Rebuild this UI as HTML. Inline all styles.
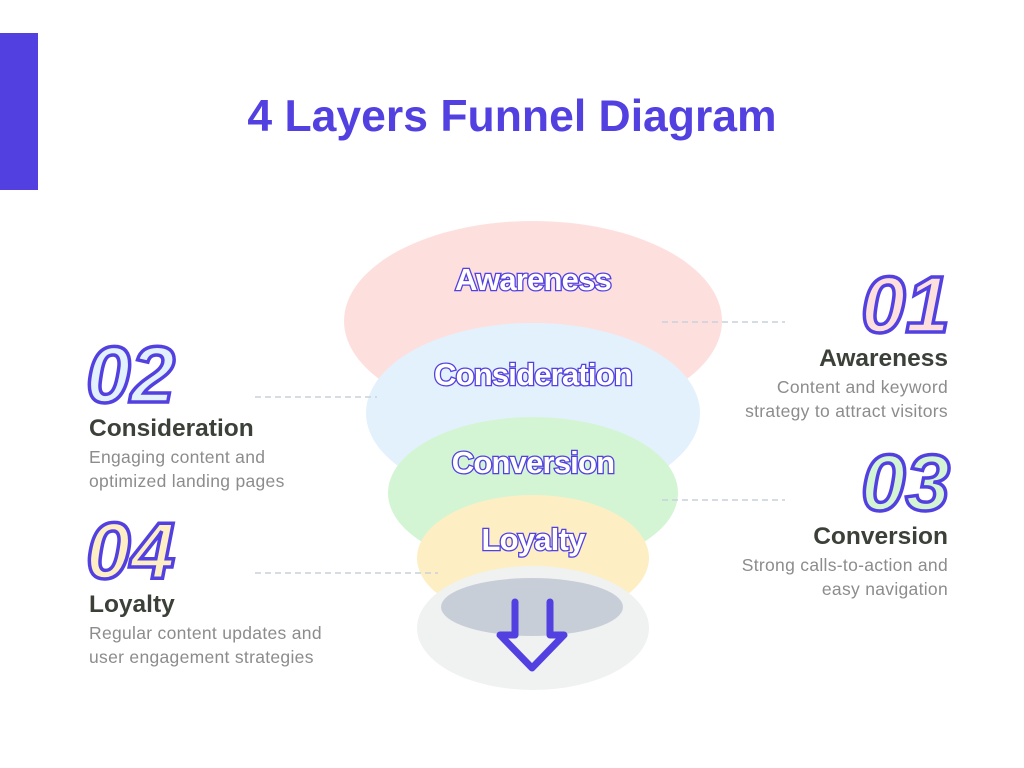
<!DOCTYPE html>
<html><head><meta charset="utf-8"><style>
html,body{margin:0;padding:0;background:#fff;}
svg{display:block;}
.lbl{font-family:"Liberation Sans",sans-serif;font-weight:bold;font-size:31px;fill:#fff;stroke:#5240e0;stroke-width:2.6px;paint-order:stroke fill;text-anchor:middle;letter-spacing:-0.8px}
.num{font-family:"Liberation Sans",sans-serif;font-weight:bold;font-style:italic;font-size:80px;stroke:#5240e0;stroke-width:3.5px;letter-spacing:0px}
.h{font-family:"Liberation Sans",sans-serif;font-weight:bold;font-size:24.5px;fill:#3b4039}
.b{font-family:"Liberation Sans",sans-serif;font-size:17.5px;fill:#8c8c8c;letter-spacing:0.3px}
.r{text-anchor:end}
.d{stroke:#c9d0dc;stroke-width:1.5;stroke-dasharray:6 4}
</style></head><body>
<svg width="1024" height="768" viewBox="0 0 1024 768">
<rect x="0" y="33" width="38" height="157" fill="#5240e0"/>
<text x="512" y="131" text-anchor="middle" font-family="Liberation Sans,sans-serif" font-weight="bold" font-size="44.5" fill="#5240e0">4 Layers Funnel Diagram</text>

<ellipse cx="533" cy="321" rx="189" ry="100" fill="#fde0de"/>
<ellipse cx="533" cy="413" rx="167" ry="90" fill="#e3f1fd"/>
<ellipse cx="533" cy="493" rx="145" ry="76" fill="#d3f5d4"/>
<ellipse cx="533" cy="558" rx="116" ry="63" fill="#fdefc3"/>
<ellipse cx="533" cy="628" rx="116" ry="62" fill="#f0f1f1"/>
<ellipse cx="532" cy="607" rx="91" ry="29" fill="#c8ced8"/>
<path d="M515 602 V635 H500 L532 668 L564 635 H550 V602" fill="none" stroke="#5240e0" stroke-width="7" stroke-linejoin="round" stroke-linecap="round"/>

<line class="d" x1="662" y1="322" x2="785" y2="322"/>
<line class="d" x1="255" y1="397" x2="377" y2="397"/>
<line class="d" x1="662" y1="500" x2="785" y2="500"/>
<line class="d" x1="255" y1="573" x2="438" y2="573"/>

<text class="lbl" x="533" y="290">Awareness</text>
<text class="lbl" x="533" y="385">Consideration</text>
<text class="lbl" x="533" y="473">Conversion</text>
<text class="lbl" x="533" y="550">Loyalty</text>

<text class="num r" x="950" y="332" fill="#fde0de">01</text>
<text class="h r" x="948" y="366">Awareness</text>
<text class="b r" x="948" y="393">Content and keyword</text>
<text class="b r" x="948" y="417">strategy to attract visitors</text>

<text class="num" x="86" y="402" fill="#e3f1fd">02</text>
<text class="h" x="89" y="436">Consideration</text>
<text class="b" x="89" y="463">Engaging content and</text>
<text class="b" x="89" y="487">optimized landing pages</text>

<text class="num r" x="950" y="510" fill="#d3f5d4">03</text>
<text class="h r" x="948" y="544">Conversion</text>
<text class="b r" x="948" y="571">Strong calls-to-action and</text>
<text class="b r" x="948" y="595">easy navigation</text>

<text class="num" x="86" y="578" fill="#fdefc3">04</text>
<text class="h" x="89" y="612">Loyalty</text>
<text class="b" x="89" y="639">Regular content updates and</text>
<text class="b" x="89" y="663">user engagement strategies</text>
</svg>
</body></html>
